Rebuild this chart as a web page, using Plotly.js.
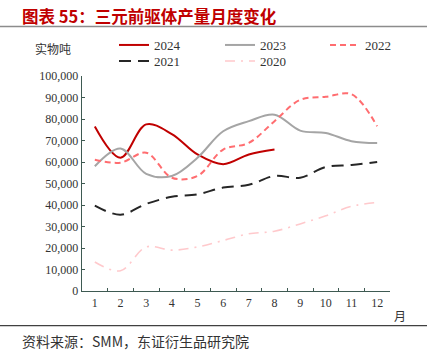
<!DOCTYPE html>
<html><head><meta charset="utf-8">
<script src="https://cdn.plot.ly/plotly-3.0.1.min.js"></script>
<style>html,body{margin:0;padding:0;background:#fff;}#chart{width:427px;height:363px;}</style>
</head><body><div id="chart"></div>
<script>
const months = ["1","2","3","4","5","6","7","8","9","10","11","12"];
const s2024 = [76500, 62000, 77500, 73000, 63500, 59000, 63500, 65800];
const s2023 = [58000, 66300, 54500, 53500, 62000, 74300, 79000, 82000, 74600, 73500, 69700, 68800];
const s2022 = [61000, 59700, 64300, 52700, 53500, 65800, 68900, 79000, 88900, 90300, 91500, 76600];
const s2021 = [39700, 35500, 40500, 43800, 45000, 48100, 49400, 53500, 52700, 57700, 58600, 60000];
const s2020 = [13500, 9400, 20500, 19000, 20500, 23500, 26600, 27800, 31200, 35000, 39400, 41200];
const yTickVals = [0,10000,20000,30000,40000,50000,60000,70000,80000,90000,100000];

const serif = '"Liberation Serif","Noto Sans CJK SC",serif';
const cjk = '"Noto Sans CJK SC","Liberation Serif",serif';

function tr(name, y, color, dash, width, legend){
  return {x: months.slice(0, y.length), y: y, name: name, type:'scatter', mode:'lines',
    line:{color:color, dash:dash, width:width, shape:'spline', smoothing:1}, legend: legend};
}
const data = [
  tr('2024', s2024, '#C00000', 'solid', 2, 'legend'),
  tr('2023', s2023, '#A5A5A5', 'solid', 2, 'legend2'),
  tr('2022', s2022, '#FF6D70', '6px,4px', 2, 'legend3'),
  tr('2021', s2021, '#262626', '12px,7px', 2, 'legend4'),
  tr('2020', s2020, '#FFC9CC', '10px,6px,2px,6px', 1.6, 'legend5')
];
function leg(xpx, ypx){
  return {orientation:'h', xref:'container', yref:'container', x:xpx/427, y:1-ypx/363,
    xanchor:'left', yanchor:'middle', font:{family:serif, size:13, color:'#333'},
    bgcolor:'rgba(0,0,0,0)', borderwidth:0};
}
const axisColor = '#3E5A52';
const layout = {
  width:427, height:363, paper_bgcolor:'#fff', plot_bgcolor:'#fff',
  margin:{l:82, r:37, t:74, b:72},
  font:{family:serif, size:12, color:'#333'},
  xaxis:{type:'category', categoryarray:months, range:[-0.5,11.5], tickson:'boundaries',
    ticks:'inside', ticklen:3, tickcolor:axisColor, tickwidth:1,
    showline:true, linecolor:axisColor, linewidth:1.3, showgrid:false, zeroline:false,
    tickfont:{family:serif, size:12, color:'#333'}, fixedrange:true},
  yaxis:{range:[0,100000], tickvals:yTickVals, tickformat:',d',
    ticks:'inside', ticklen:3, tickcolor:axisColor, tickwidth:1,
    showline:true, linecolor:axisColor, linewidth:1.3, showgrid:false, zeroline:false,
    tickfont:{family:serif, size:12, color:'#333'}, fixedrange:true},
  legend: leg(114, 45),
  legend2: leg(220, 45),
  legend3: leg(325, 45),
  legend4: leg(114, 61),
  legend5: leg(220, 61),
  showlegend:true,
  shapes:[
    {type:'line', xref:'paper', yref:'paper', x0:-82/308, x1:(427-82)/308, y0:1+(74-24)/217, y1:1+(74-24)/217,
      line:{color:'#8C8C8C', width:1.5}},
    {type:'line', xref:'paper', yref:'paper', x0:-82/308, x1:(427-82)/308, y0:-(326-291)/217, y1:-(326-291)/217,
      line:{color:'#404040', width:1.2}}
  ],
  annotations:[
    {text:'<b>图表 55：三元前驱体产量月度变化</b>', xref:'paper', yref:'paper', x:-62/308, y:1+(74-13)/217,
      xanchor:'left', yanchor:'middle', showarrow:false, font:{family:cjk, size:16.5, color:'#C00000'}},
    {text:'实物吨', xref:'paper', yref:'paper', x:-49/308, y:1+(74-46)/217,
      xanchor:'left', yanchor:'middle', showarrow:false, font:{family:cjk, size:12, color:'#333'}},
    {text:'月', xref:'paper', yref:'paper', x:(400-82)/308, y:-(316-291)/217,
      xanchor:'center', yanchor:'middle', showarrow:false, font:{family:cjk, size:12, color:'#333'}},
    {text:'资料来源：SMM，东证衍生品研究院', xref:'paper', yref:'paper', x:-62/308, y:-(341-291)/217,
      xanchor:'left', yanchor:'middle', showarrow:false, font:{family:cjk, size:14, color:'#333'}}
  ]
};
Plotly.newPlot('chart', data, layout, {displayModeBar:false, staticPlot:true});
</script></body></html>
